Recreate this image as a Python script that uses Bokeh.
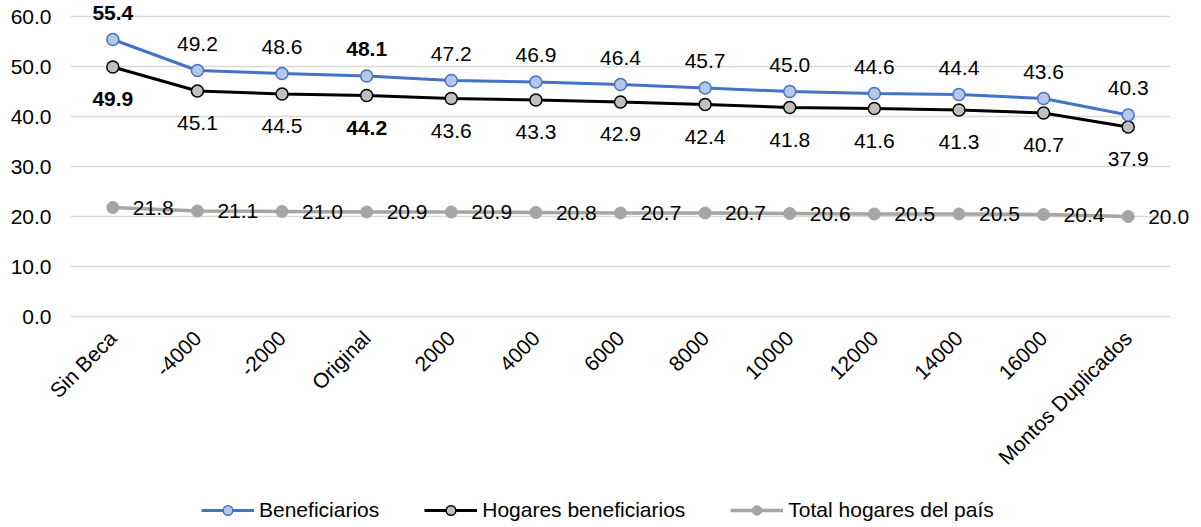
import math
from bokeh.plotting import figure
from bokeh.models import (ColumnDataSource, LabelSet, Legend, LegendItem, FixedTicker,
                          Range1d, CustomJSTickFormatter)
from bokeh.core.properties import value
from bokeh.embed import file_html
from bokeh.resources import INLINE

categories = ["Sin Beca", "-4000", "-2000", "Original", "2000", "4000", "6000",
              "8000", "10000", "12000", "14000", "16000", "Montos Duplicados"]
beneficiarios = [55.4, 49.2, 48.6, 48.1, 47.2, 46.9, 46.4, 45.7, 45.0, 44.6, 44.4, 43.6, 40.3]
hogares_benef = [49.9, 45.1, 44.5, 44.2, 43.6, 43.3, 42.9, 42.4, 41.8, 41.6, 41.3, 40.7, 37.9]
total_hogares = [21.8, 21.1, 21.0, 20.9, 20.9, 20.8, 20.7, 20.7, 20.6, 20.5, 20.5, 20.4, 20.0]
bold_categories = ["Sin Beca", "Original"]
y_ticks = [0, 10, 20, 30, 40, 50, 60]

FONT = "Liberation Sans"
FS = "21px"
idx = list(range(len(categories)))

def styles(bold_list):
    return ["bold" if c in bold_list else "normal" for c in categories]

src_b = ColumnDataSource(dict(x=idx, y=beneficiarios,
                              t=[f"{v:.1f}" for v in beneficiarios], s=styles(bold_categories)))
src_h = ColumnDataSource(dict(x=idx, y=hogares_benef,
                              t=[f"{v:.1f}" for v in hogares_benef], s=styles(bold_categories)))
src_t = ColumnDataSource(dict(x=idx, y=total_hogares,
                              t=[f"{v:.1f}" for v in total_hogares], s=["normal"] * len(categories)))

# pixel geometry: 5 px per unit, 0 at y=316, 60 at y=16; category step ~84.6 px, plot area x 70..1170
W, H = 1201, 527
STEP = 84.6
y_top = 60 + 16 / 5
x_left = -0.5
p = figure(x_range=Range1d(x_left - 70 / STEP, len(categories) - 0.5 + 31 / STEP),
           y_range=Range1d(y_top - H / 5, y_top),
           width=W, height=H, output_backend="svg", toolbar_location=None,
           min_border_left=0, min_border_right=0, min_border_top=0, min_border_bottom=0)
p.outline_line_color = None
p.background_fill_color = "white"
p.border_fill_color = "white"

# grid lines (limited to the category span)
p.xgrid.grid_line_color = None
p.ygrid.grid_line_color = None
p.segment(x0=x_left, x1=len(categories) - 0.5, y0=y_ticks, y1=y_ticks,
          line_color="#D9D9D9", line_width=1.5)

p.yaxis.ticker = FixedTicker(ticks=y_ticks)
p.yaxis.formatter = CustomJSTickFormatter(code="return tick.toFixed(1);")
p.yaxis.fixed_location = x_left
p.xaxis.ticker = FixedTicker(ticks=idx)
p.xaxis.major_label_overrides = {i: c for i, c in zip(idx, categories)}
p.xaxis.fixed_location = 0

for ax in (p.xaxis, p.yaxis):
    ax.axis_line_color = None
    ax.major_tick_line_color = None
    ax.minor_tick_line_color = None
    ax.major_tick_out = 0
    ax.major_tick_in = 0
    ax.major_label_text_font = FONT
    ax.major_label_text_font_size = FS
    ax.major_label_text_color = "#000000"
p.yaxis.major_label_standoff = 19
p.xaxis.major_label_standoff = 18
p.xaxis.major_label_orientation = math.pi / 4

# series
lt = p.line("x", "y", source=src_t, line_color="#A5A5A5", line_width=3.5)
st = p.scatter("x", "y", source=src_t, size=12, fill_color="#A5A5A5", line_color="#A5A5A5")
lh = p.line("x", "y", source=src_h, line_color="#000000", line_width=3)
sh = p.scatter("x", "y", source=src_h, size=12, fill_color="#BFBFBF", line_color="#000000", line_width=1.5)
lb = p.line("x", "y", source=src_b, line_color="#4472C4", line_width=3)
sb = p.scatter("x", "y", source=src_b, size=12, fill_color="#B4C7E7", line_color="#4472C4", line_width=1.5)

common = dict(x="x", y="y", text="t", text_font_style="s", text_font_size=value(FS),
              text_color="#000000", text_font=value(FONT), text_baseline="middle")
p.add_layout(LabelSet(source=src_b, y_offset=27, text_align="center", **common))
p.add_layout(LabelSet(source=src_h, y_offset=-32, text_align="center", **common))
p.add_layout(LabelSet(source=src_t, x_offset=20, text_align="left", **common))

legend = Legend(items=[LegendItem(label="Beneficiarios", renderers=[lb, sb]),
                       LegendItem(label="Hogares beneficiarios", renderers=[lh, sh]),
                       LegendItem(label="Total hogares del país", renderers=[lt, st])],
                orientation="horizontal", location=(201, 5))
legend.border_line_color = None
legend.background_fill_alpha = 0
legend.padding = 0
legend.margin = 0
legend.spacing = 45
legend.glyph_width = 53
legend.glyph_height = 24
legend.label_height = 24
legend.label_standoff = 5
legend.label_text_font = FONT
legend.label_text_font_size = FS
legend.label_text_color = "#000000"
p.add_layout(legend, "center")

open("out.html", "w").write(file_html(p, INLINE))
